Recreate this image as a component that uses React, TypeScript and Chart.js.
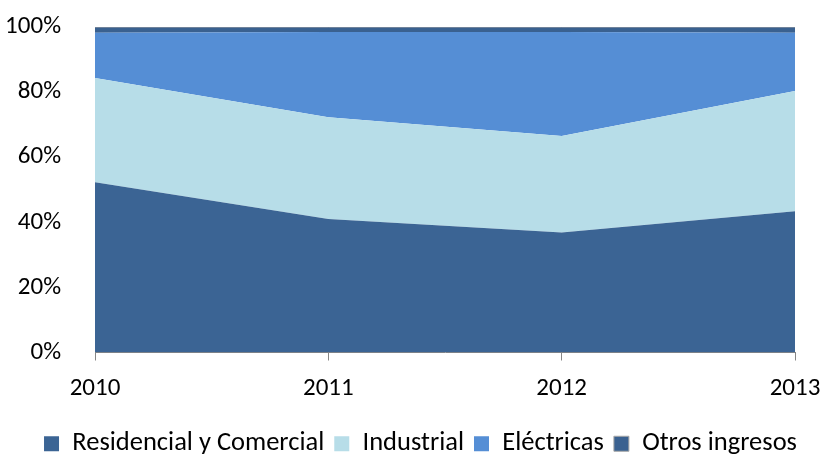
import React, { useEffect, useRef } from "react";
import { Chart, registerables } from "chart.js";

Chart.register(...registerables);

const years = ["2010", "2011", "2012", "2013"];
const residencial = [52.3, 41.0, 36.9, 43.4];
const industrial = [32.0, 31.3, 29.6, 36.9];
const electricas = [13.9, 26.2, 32.0, 17.9];
const otros = [1.8, 1.5, 1.5, 1.8];

const FONT = "Carlito, 'Open Sans', sans-serif";

const shiftLegend = {
  id: "shiftLegend",
  afterLayout(chart: any) {
    const l = chart.legend;
    if (!l) return;
    l.left += 18;
    l.top += 13;
    l.bottom += 13;
  },
};

export default function App() {
  const ref = useRef<HTMLCanvasElement | null>(null);
  useEffect(() => {
    document.body.style.margin = "0";
    const ctx = ref.current!.getContext("2d")!;
    const chart = new Chart(ctx, {
      type: "line",
      data: {
        labels: years,
        datasets: [
          { label: "Residencial y Comercial", data: residencial, backgroundColor: "#3B6494", borderWidth: 0, fill: "origin", pointRadius: 0 },
          { label: "Industrial", data: industrial, backgroundColor: "#B7DDE8", borderWidth: 0, fill: "-1", pointRadius: 0 },
          { label: "Eléctricas", data: electricas, backgroundColor: "#558ED5", borderWidth: 0, fill: "-1", pointRadius: 0 },
          { label: "Otros ingresos", data: otros, backgroundColor: "#3A6190", borderColor: "#A6A6A6", borderWidth: 1, fill: "-1", pointRadius: 0 },
        ],
      },
      plugins: [shiftLegend],
      options: {
        animation: false,
        responsive: false,
        layout: { padding: 0 },
        plugins: {
          tooltip: { enabled: false },
          legend: {
            position: "bottom",
            labels: {
              font: { family: FONT, size: 26.5 },
              color: "#000",
              boxWidth: 15,
              boxHeight: 15,
              padding: 10,
            },
          },
        },
        scales: {
          x: {
            offset: false,
            grid: { drawOnChartArea: false, drawTicks: true, tickLength: 8, color: "#868686" },
            border: { color: "#868686", width: 1 },
            ticks: { font: { family: FONT, size: 25 }, color: "#000", padding: 13, maxRotation: 0 },
            afterFit: (s: any) => { s.height = 55; s.paddingRight = 28; s.paddingLeft = 0; },
          },
          y: {
            stacked: true,
            min: 0,
            max: 100,
            grid: { display: false },
            border: { display: false },
            ticks: { stepSize: 20, font: { family: FONT, size: 25 }, color: "#000", padding: 26, callback: (v: any) => v + "%" },
            afterFit: (s: any) => { s.width = 95; s.paddingTop = 27; s.paddingBottom = 0; },
          },
        },
      },
    });
    return () => chart.destroy();
  }, []);
  return <canvas ref={ref} width={823} height={454} style={{ display: "block" }} />;
}
